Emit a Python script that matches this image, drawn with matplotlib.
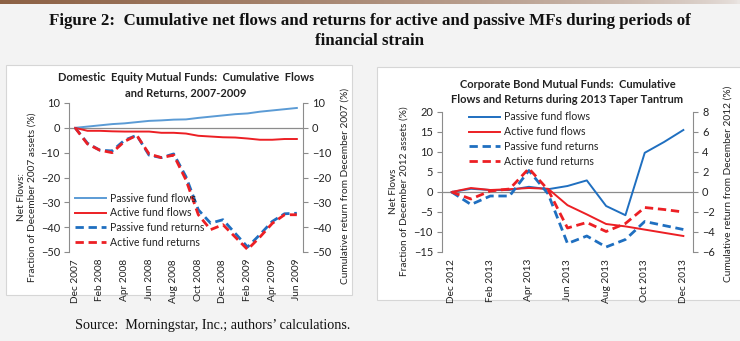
import matplotlib
matplotlib.use("Agg")
import matplotlib.pyplot as plt
import numpy as np
from matplotlib.patches import Rectangle

# ---------------- data ----------------
months_eq = ["Dec 2007", "Jan 2008", "Feb 2008", "Mar 2008", "Apr 2008", "May 2008", "Jun 2008",
             "Jul 2008", "Aug 2008", "Sep 2008", "Oct 2008", "Nov 2008", "Dec 2008", "Jan 2009",
             "Feb 2009", "Mar 2009", "Apr 2009", "May 2009", "Jun 2009"]
eq_passive_flows = [0, 0.5, 1.0, 1.5, 1.8, 2.3, 2.8, 3.0, 3.3, 3.4, 4.0, 4.5, 5.0, 5.5, 5.8, 6.5, 7.0, 7.5, 8.0]
eq_active_flows = [0, -1.2, -1.2, -1.4, -1.5, -1.5, -1.5, -2.0, -2.0, -2.3, -3.2, -3.5, -3.8, -3.9, -4.3, -4.8, -4.8, -4.5, -4.5]
eq_passive_returns = [0, -6.2, -9.0, -9.3, -5.0, -3.0, -11.0, -12.0, -10.5, -19.7, -33.0, -38.4, -37.0, -42.5, -48.0, -43.0, -37.7, -34.6, -34.4]
eq_active_returns = [0, -6.5, -9.0, -10.0, -5.5, -3.0, -10.5, -12.0, -11.0, -21.0, -35.0, -41.0, -39.0, -44.0, -49.0, -44.0, -38.5, -35.0, -35.0]

months_bd = ["Dec 2012", "Jan 2013", "Feb 2013", "Mar 2013", "Apr 2013", "May 2013", "Jun 2013",
             "Jul 2013", "Aug 2013", "Sep 2013", "Oct 2013", "Nov 2013", "Dec 2013"]
bd_passive_flows = [0, 0.8, 0.5, 0.5, 1.3, 0.7, 1.5, 2.9, -3.5, -5.8, 9.8, 12.5, 15.5]
bd_active_flows = [0, 1.0, 0.5, 0.7, 1.0, 0.8, -3.3, -5.6, -8.0, -8.6, -9.4, -10.2, -11.0]
bd_passive_returns = [0, -1.25, -0.4, -0.4, 2.15, -0.2, -5.15, -4.4, -5.5, -4.75, -2.95, -3.35, -3.75]
bd_active_returns = [0, -0.7, 0.1, 0.3, 2.35, 0.2, -3.6, -3.05, -3.95, -3.15, -1.55, -1.75, -2.0]

eq_ticklabels = ["Dec 2007", "Feb 2008", "Apr 2008", "Jun 2008", "Aug 2008", "Oct 2008",
                 "Dec 2008", "Feb 2009", "Apr 2009", "Jun 2009"]
bd_ticklabels = ["Dec 2012", "Feb 2013", "Apr 2013", "Jun 2013", "Aug 2013", "Oct 2013", "Dec 2013"]

series_labels = ["Passive fund flows", "Active fund flows", "Passive fund returns", "Active fund returns"]

# ---------------- style ----------------
W, H = 740, 341
fig = plt.figure(figsize=(W / 100, H / 100), dpi=100)
fig.patch.set_facecolor("#f3f3f3")

SANS = ["Lato", "DejaVu Sans"]
SERIF = ["Liberation Serif", "DejaVu Serif"]
RED = "#ec1f24"
BLUE_L = "#5b9bd5"
BLUE = "#1f6fc0"
SPINE = "#8c8c8c"
DASH = (0, (3.0, 1.7))


def fx(px):
    return px / W


def fy(py):
    return 1 - py / H


# top brown strip
strip = fig.add_axes([0, fy(4), 1, 4 / H])
grad = np.linspace(0, 1, 256)
c0 = np.array([0.55, 0.38, 0.27])
c1 = np.array([0.92, 0.90, 0.89])
img = np.array([c0 * (1 - g) ** 0.6 + c1 * (1 - (1 - g) ** 0.6) for g in grad])[None, :, :]
strip.imshow(img, aspect="auto", extent=[0, 1, 0, 1])
strip.axis("off")

# panel boxes (behind the axes)
fig.patches.append(Rectangle((fx(6), fy(295)), fx(346), 230 / H, transform=fig.transFigure,
                             facecolor="white", edgecolor="#d6d6d6", lw=0.8, zorder=-10))
fig.patches.append(Rectangle((fx(377), fy(300)), fx(370), 233 / H, transform=fig.transFigure,
                             facecolor="white", edgecolor="#d6d6d6", lw=0.8, zorder=-10))

# titles
fig.text(0.5, fy(21), "Figure 2:  Cumulative net flows and returns for active and passive MFs during periods of",
         ha="center", va="center", family=SERIF, weight="bold", fontsize=12.2, color="#111111")
fig.text(0.5, fy(41), "financial strain", ha="center", va="center", family=SERIF, weight="bold",
         fontsize=12.2, color="#111111")
fig.text(fx(75), fy(326), "Source:  Morningstar, Inc.; authors\u2019 calculations.", ha="left", va="center",
         family=SERIF, fontsize=10.2, color="#111111")


def make_panel(rect, months, pf, af, pr, ar, ticklabels, ylim1, yt1, ylim2, yt2,
               title, title_y, left_label, right_label, left_label_x, right_label_x,
               left_label_y, right_label_y, pf_color, legend_anchor):
    ax = fig.add_axes(rect)
    ax2 = ax.twinx()
    x = np.arange(len(months))
    ax.axhline(0, color=SPINE, lw=0.9, zorder=1)
    l1, = ax.plot(x, pf, color=pf_color, lw=1.4, zorder=3, solid_joinstyle="round")
    l2, = ax.plot(x, af, color=RED, lw=1.4, zorder=3, solid_joinstyle="round")
    l3, = ax2.plot(x, pr, color=BLUE, lw=2.0, ls=DASH, zorder=3)
    l4, = ax2.plot(x, ar, color=RED, lw=2.0, ls=DASH, zorder=4)
    ax.set_xlim(-0.5, len(months) - 0.5)
    ax.set_ylim(*ylim1)
    ax.set_yticks(yt1)
    ax2.set_ylim(*ylim2)
    ax2.set_yticks(yt2)
    pos = [months.index(t) for t in ticklabels]
    ax.set_xticks(pos)
    ax.set_xticklabels(ticklabels, rotation=90, family=SANS, fontsize=7.3, color="#222222")
    ax.tick_params(axis="x", length=0, pad=5)
    for a in (ax, ax2):
        a.patch.set_visible(False)
        for s in ("top", "bottom"):
            a.spines[s].set_visible(False)
        a.spines["left"].set_color(SPINE)
        a.spines["right"].set_color(SPINE)
        a.tick_params(axis="y", colors="#222222", labelsize=7.9, length=3.5, width=0.8, color=SPINE, pad=3)
        for t in a.get_yticklabels():
            t.set_family(SANS)
    ax.spines["right"].set_visible(False)
    ax2.spines["left"].set_visible(False)
    fig.text(rect[0] + rect[2] / 2, title_y, title, ha="center", va="top", family=SANS, weight="bold",
             fontsize=8.0, color="#222222", linespacing=1.45)
    fig.text(left_label_x, left_label_y, left_label, rotation=90, ha="center", va="center",
             family=SANS, fontsize=7.3, color="#222222", linespacing=1.3)
    fig.text(right_label_x, right_label_y, right_label, rotation=90, ha="center", va="center",
             family=SANS, fontsize=7.3, color="#222222")
    leg = ax2.legend([l1, l2, l3, l4], series_labels, loc="upper left", bbox_to_anchor=legend_anchor,
                     bbox_transform=fig.transFigure, frameon=False, handlelength=2.9, handletextpad=0.45,
                     labelspacing=0.35, borderaxespad=0, borderpad=0,
                     prop={"family": SANS, "size": 7.6})
    for t in leg.get_texts():
        t.set_color("#222222")
    return ax, ax2


make_panel([fx(69), fy(252), fx(234), 149 / H], months_eq,
           eq_passive_flows, eq_active_flows, eq_passive_returns, eq_active_returns,
           eq_ticklabels, (-50, 10), np.arange(-50, 11, 10), (-50, 10), np.arange(-50, 11, 10),
           "Domestic  Equity Mutual Funds:  Cumulative  Flows\nand Returns, 2007-2009", fy(72),
           "Net Flows:\nFraction of December 2007 assets (%)", "Cumulative return from December 2007 (%)",
           fx(27), fx(345), fy(197), fy(186), BLUE_L, (fx(75), fy(192.5)))

make_panel([fx(442), fy(252), fx(251), 140 / H], months_bd,
           bd_passive_flows, bd_active_flows, bd_passive_returns, bd_active_returns,
           bd_ticklabels, (-15, 20), np.arange(-15, 21, 5), (-6, 8), np.arange(-6, 9, 2),
           "Corporate Bond Mutual Funds:  Cumulative\nFlows and Returns during 2013 Taper Tantrum", fy(78.5),
           "Net Flows\nFraction of December 2012 assets (%)", "Cumulative return from December 2012 (%)",
           fx(399), fx(728), fy(191), fy(184), BLUE, (fx(469), fy(111.5)))

fig.savefig("out.png", dpi=100, facecolor=fig.get_facecolor())
